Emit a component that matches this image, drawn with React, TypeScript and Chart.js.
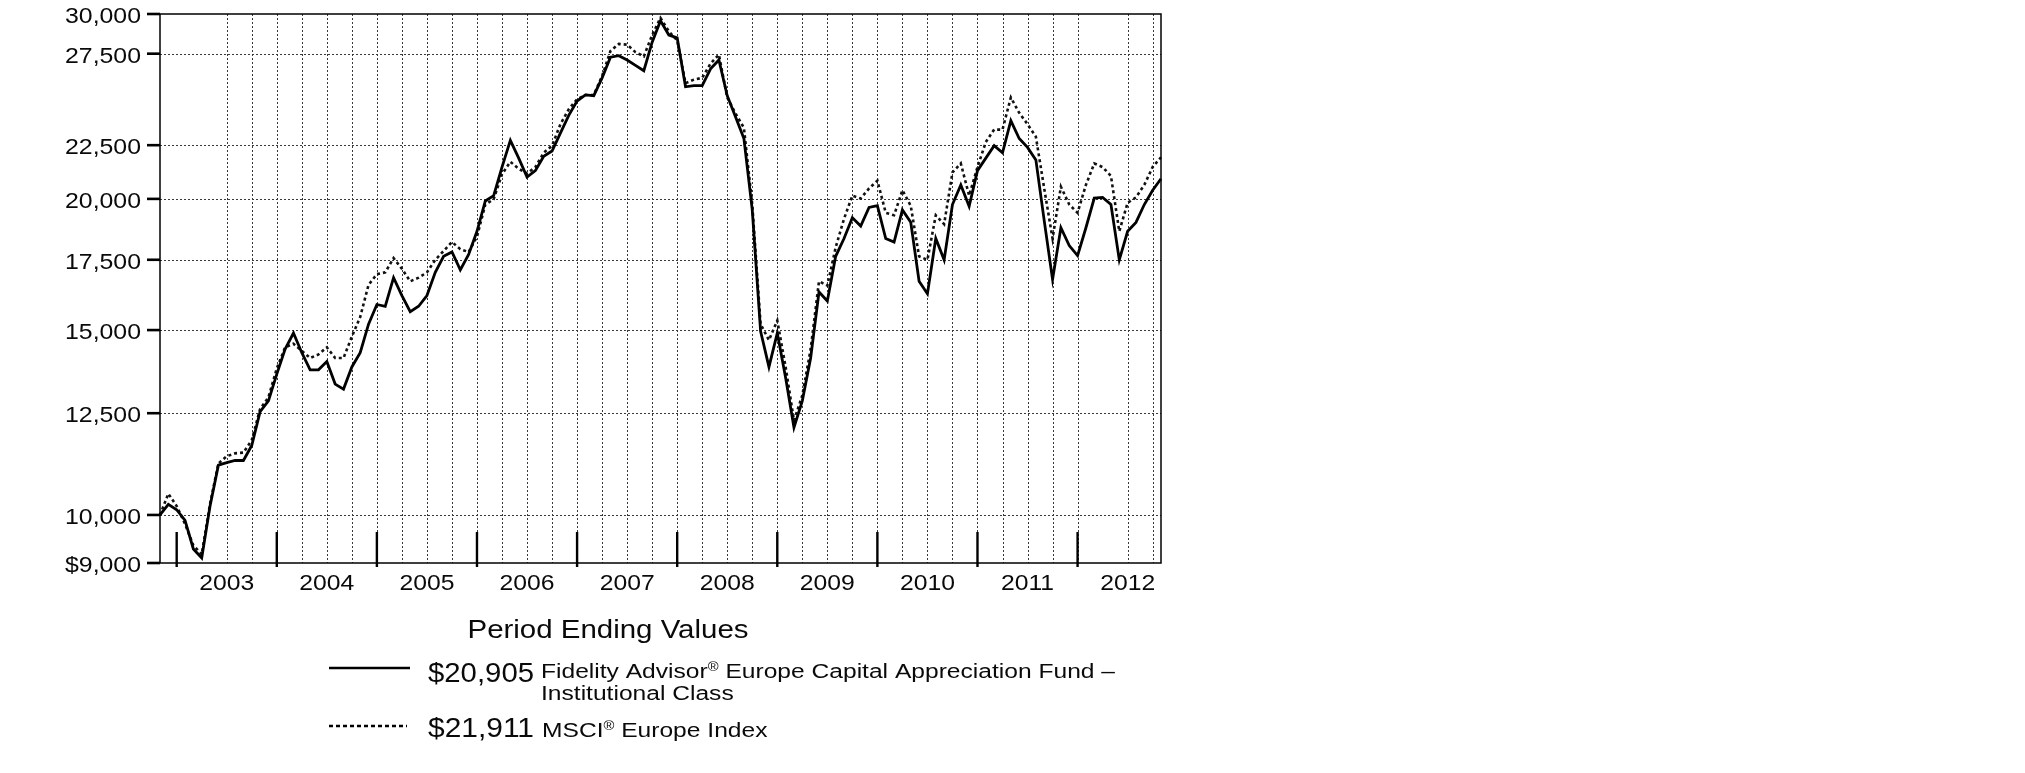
import React, { useEffect, useRef } from 'react';
import { Chart, registerables } from 'chart.js';

Chart.register(...registerables);

// ---------------- data ----------------
const START_YEAR = 2002;
const START_MONTH = 9; // October (0-based)
const MONTH_NAMES = ['Jan', 'Feb', 'Mar', 'Apr', 'May', 'Jun', 'Jul', 'Aug', 'Sep', 'Oct', 'Nov', 'Dec'];
const MONTHS: string[] = [];
for (let i = 0; i <= 120; i++) {
  const m = (START_MONTH + i) % 12;
  const yv = START_YEAR + Math.floor((START_MONTH + i) / 12);
  MONTHS.push(`${MONTH_NAMES[m]} ${yv}`);
}

const FUND_VALUES = [
  10000, 10235, 10115, 9881, 9281, 9101, 10200, 11155, 11216, 11269,
  11269, 11646, 12545, 12843, 13620, 14387, 14902, 14274, 13748, 13748,
  13998, 13324, 13179, 13835, 14274, 15197, 15865, 15803, 16825, 16179,
  15619, 15803, 16179, 17023, 17634, 17800, 17117, 17703, 18627, 19909,
  20144, 21446, 22742, 21870, 20980, 21278, 21956, 22215, 23101, 24024,
  24787, 25119, 25079, 26081, 27292, 27378, 27122, 26805, 26492, 28204,
  29561, 28649, 28471, 25575, 25635, 25635, 26596, 27122, 25079, 23930,
  22831, 19523, 14961, 13835, 14902, 13513, 12112, 12843, 14108, 16306,
  15990, 17634, 18337, 19190, 18847, 19631, 19708, 18337, 18194, 19523,
  19000, 16693, 16242, 18337, 17496, 19754, 20623, 19677, 21278, 21870,
  22478, 22128, 23743, 22831, 22390, 21785, 19070, 16759, 18774, 18053,
  17661, 18774, 20034, 20066, 19754, 17496, 18627, 18995, 19754, 20383,
  20905,
];

const INDEX_VALUES = [
  10000, 10478, 10195, 9804, 9354, 9173, 10250, 11195, 11375, 11447,
  11465, 11783, 12614, 12944, 13787, 14443, 14557, 14330, 14108, 14219,
  14443, 14108, 14108, 14786, 15437, 16563, 16957, 17023, 17565, 17157,
  16693, 16825, 17023, 17496, 17842, 18194, 17912, 17800, 18409, 19754,
  19987, 21112, 21699, 21362, 21146, 21446, 22128, 22478, 23558, 24345,
  24884, 25119, 25119, 26183, 27658, 28094, 28050, 27593, 27335, 28649,
  29747, 28875, 28315, 25776, 25979, 26081, 26910, 27442, 24982, 24118,
  23374, 19754, 15197, 14671, 15316, 13835, 12303, 12995, 14387, 16693,
  16537, 17982, 19145, 20144, 20018, 20462, 20818, 19401, 19295, 20383,
  19700, 17634, 17496, 19295, 18921, 21196, 21615, 20144, 21446, 22654,
  23283, 23283, 24982, 24156, 23558, 22921, 20462, 18337, 20543, 19754,
  19401, 20623, 21615, 21446, 21030, 18627, 19831, 20066, 20623, 21446,
  21911,
];

const Y_TICKS = [9000, 10000, 12500, 15000, 17500, 20000, 22500, 27500, 30000];
const Y_TICK_LABELS = ['$9,000', '10,000', '12,500', '15,000', '17,500', '20,000', '22,500', '27,500', '30,000'];
const YEAR_LABELS = ['2003', '2004', '2005', '2006', '2007', '2008', '2009', '2010', '2011', '2012'];
const GRID_SKIP = ['Dec 2002', 'Mar 2003', 'Mar 2012'];

const LEGEND_TITLE = 'Period Ending Values';
const FUND_END = '$20,905';
const INDEX_END = '$21,911';

const FONT = '"Liberation Sans", Arial, Helvetica, sans-serif';

// ---------------- drawing helpers ----------------
type Run = { t: string; size: number; dy?: number };

function runsWidth(ctx: CanvasRenderingContext2D, runs: Run[]) {
  let w = 0;
  for (const r of runs) {
    ctx.font = `${r.size}px ${FONT}`;
    w += ctx.measureText(r.t).width;
  }
  return w;
}

function drawRuns(
  ctx: CanvasRenderingContext2D,
  runs: Run[],
  x: number,
  y: number,
  sx: number,
  align: 'left' | 'center' | 'right' = 'left'
) {
  const natural = runsWidth(ctx, runs);
  const w = natural * sx;
  let left = x;
  if (align === 'center') left = x - w / 2;
  else if (align === 'right') left = x - w;
  ctx.save();
  ctx.translate(left, y);
  ctx.scale(sx, 1);
  ctx.textAlign = 'left';
  ctx.textBaseline = 'alphabetic';
  ctx.fillStyle = '#0a0a0a';
  let cx = 0;
  for (const r of runs) {
    ctx.font = `${r.size}px ${FONT}`;
    ctx.fillText(r.t, cx, r.dy || 0);
    cx += ctx.measureText(r.t).width;
  }
  ctx.restore();
}

function fitSx(ctx: CanvasRenderingContext2D, runs: Run[], target: number) {
  return target / runsWidth(ctx, runs);
}

function seg(ctx: CanvasRenderingContext2D, x1: number, y1: number, x2: number, y2: number) {
  ctx.beginPath();
  ctx.moveTo(x1, y1);
  ctx.lineTo(x2, y2);
  ctx.stroke();
}

const decorPlugin = {
  id: 'decor',
  beforeDatasetsDraw(chart: any) {
    const { ctx, chartArea: a, scales } = chart;
    const x = scales.x;
    const y = scales.y;
    ctx.save();
    ctx.strokeStyle = '#3a3a3a';
    ctx.lineWidth = 1;
    ctx.setLineDash([2, 2]);
    // horizontal grid
    Y_TICKS.forEach((v) => {
      if (v === Y_TICKS[0] || v === Y_TICKS[Y_TICKS.length - 1]) return;
      const py = Math.round(y.getPixelForValue(v)) + 0.5;
      seg(ctx, a.left, py, a.right, py);
    });
    // vertical quarterly grid
    MONTHS.forEach((lab, i) => {
      const m = (START_MONTH + i) % 12;
      if (m % 3 !== 2) return;
      if (GRID_SKIP.includes(lab)) return;
      if (i === MONTHS.length - 1) return;
      const px = Math.round(x.getPixelForValue(i)) + 0.5;
      seg(ctx, px, a.top, px, a.bottom);
    });
    ctx.restore();
  },
  afterDatasetsDraw(chart: any) {
    const { ctx, chartArea: a, scales } = chart;
    const x = scales.x;
    const y = scales.y;
    ctx.save();
    ctx.setLineDash([]);
    ctx.strokeStyle = '#000';

    // frame
    ctx.lineWidth = 1.5;
    ctx.strokeRect(a.left, a.top, a.right - a.left, a.bottom - a.top);

    // y tick marks
    ctx.lineWidth = 2.6;
    Y_TICKS.forEach((v) => {
      const py = y.getPixelForValue(v);
      seg(ctx, a.left - 13, py, a.left, py);
    });

    // year boundary tick marks (December of each year)
    ctx.lineWidth = 2.4;
    MONTHS.forEach((lab, i) => {
      const m = (START_MONTH + i) % 12;
      if (m !== 11) return;
      const px = x.getPixelForValue(i);
      seg(ctx, px, a.bottom - 31, px, a.bottom + 4);
    });

    // y labels
    const ySx = fitSx(ctx, [{ t: '30,000', size: 22 }], 76);
    Y_TICKS.forEach((v, k) => {
      const py = y.getPixelForValue(v);
      drawRuns(ctx, [{ t: Y_TICK_LABELS[k], size: 22 }], a.left - 19, py + 9, ySx, 'right');
    });

    // year labels at the June of each year
    const xSx = fitSx(ctx, [{ t: '2003', size: 22 }], 55);
    YEAR_LABELS.forEach((yr) => {
      const idx = MONTHS.indexOf(`Jun ${yr}`);
      const px = x.getPixelForValue(idx);
      drawRuns(ctx, [{ t: yr, size: 22 }], px, a.bottom + 27, xSx, 'center');
    });

    // legend
    const title: Run[] = [{ t: LEGEND_TITLE, size: 26 }];
    drawRuns(ctx, title, 608, 638, fitSx(ctx, title, 281), 'center');

    ctx.strokeStyle = '#000';
    ctx.lineWidth = 2.4;
    seg(ctx, 329, 668, 410, 668);
    ctx.setLineDash([4, 3]);
    seg(ctx, 329, 726, 407, 726);
    ctx.setLineDash([]);

    const v1: Run[] = [{ t: FUND_END, size: 27 }];
    drawRuns(ctx, v1, 428, 682, fitSx(ctx, v1, 106), 'left');
    const v2: Run[] = [{ t: INDEX_END, size: 27 }];
    drawRuns(ctx, v2, 428, 737, fitSx(ctx, v2, 106), 'left');

    const name1: Run[] = [
      { t: 'Fidelity Advisor', size: 20 },
      { t: '®', size: 12, dy: -7 },
      { t: ' Europe Capital Appreciation Fund \u2013', size: 20 },
    ];
    const nSx = fitSx(ctx, name1, 574);
    drawRuns(ctx, name1, 541, 678, nSx, 'left');
    drawRuns(ctx, [{ t: 'Institutional Class', size: 20 }], 541, 700, nSx, 'left');
    const name2: Run[] = [
      { t: 'MSCI', size: 20 },
      { t: '®', size: 12, dy: -7 },
      { t: ' Europe Index', size: 20 },
    ];
    drawRuns(ctx, name2, 542, 737, nSx, 'left');

    ctx.restore();
  },
};

export default function App() {
  const ref = useRef<HTMLCanvasElement | null>(null);
  useEffect(() => {
    if (!ref.current) return;
    const chart = new Chart(ref.current, {
      type: 'line',
      data: {
        labels: MONTHS,
        datasets: [
          {
            label: 'Fidelity Advisor® Europe Capital Appreciation Fund – Institutional Class',
            data: FUND_VALUES,
            borderColor: '#000',
            borderWidth: 2.8,
            pointRadius: 0,
            tension: 0,
            fill: false,
          },
          {
            label: 'MSCI® Europe Index',
            data: INDEX_VALUES,
            borderColor: '#111',
            borderWidth: 2.6,
            borderDash: [3, 3],
            pointRadius: 0,
            tension: 0,
            fill: false,
          },
        ],
      },
      options: {
        responsive: false,
        animation: false,
        events: [],
        layout: { padding: { left: 160, top: 14, right: 864, bottom: 210 } },
        plugins: { legend: { display: false }, tooltip: { enabled: false } },
        scales: {
          x: { type: 'category', display: false },
          y: { type: 'logarithmic', display: false, min: 9000, max: 30000 },
        },
      },
      plugins: [decorPlugin],
    } as any);
    return () => chart.destroy();
  }, []);
  return (
    <div style={{ position: 'fixed', left: 0, top: 0, width: 2025, height: 773, background: '#fff' }}>
      <canvas ref={ref} width={2025} height={773} style={{ display: 'block', width: 2025, height: 773 }} />
    </div>
  );
}
